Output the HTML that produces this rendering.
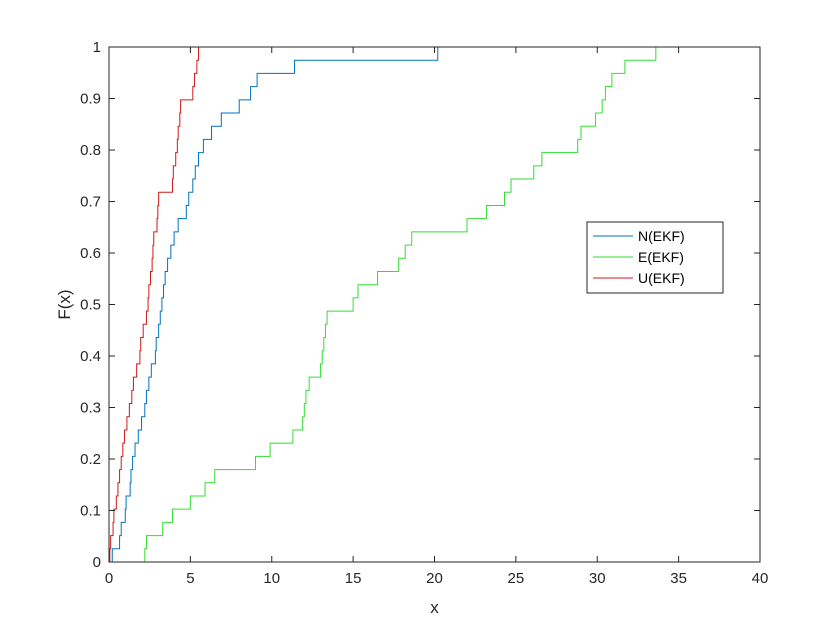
<!DOCTYPE html>
<html><head><meta charset="utf-8"><style>
body{margin:0;background:#fff}
svg{font-family:"Liberation Sans",sans-serif}
</style></head><body>
<svg width="840" height="630" viewBox="0 0 840 630">
<rect width="840" height="630" fill="#fff"/>
<g id="plot"></g>
</svg>
<script>
const xTicks=[0,5,10,15,20,25,30,35,40];
const yTicks=[0,0.1,0.2,0.3,0.4,0.5,0.6,0.7,0.8,0.9,1];
const yTickLabels=["0","0.1","0.2","0.3","0.4","0.5","0.6","0.7","0.8","0.9","1"];
const seriesNames=["N(EKF)","E(EKF)","U(EKF)"];
const nValues=[0.2,0.65,0.75,1.0,1.05,1.3,1.35,1.45,1.6,1.8,2.0,2.2,2.3,2.45,2.6,2.85,2.9,3.05,3.15,3.25,3.35,3.45,3.6,3.8,4.0,4.25,4.75,4.9,5.15,5.3,5.5,5.8,6.3,6.9,8.0,8.7,9.1,11.4,20.2];
const eValues=[2.2,2.3,3.3,3.9,5.0,5.9,6.5,9.0,9.9,11.3,11.9,12.0,12.1,12.3,13.0,13.1,13.2,13.3,13.4,15.0,15.3,16.5,17.8,18.2,18.6,22.0,23.2,24.3,24.7,26.1,26.6,28.8,29.0,29.9,30.3,30.5,30.9,31.7,33.6];
const uValues=[0.05,0.1,0.25,0.3,0.45,0.55,0.65,0.75,0.85,0.95,1.1,1.25,1.4,1.5,1.7,1.9,1.95,2.1,2.3,2.4,2.45,2.55,2.65,2.7,2.75,2.95,3.0,3.05,3.9,3.95,4.1,4.2,4.25,4.35,4.4,5.15,5.25,5.4,5.5];
const colors=["#0072BD","#33dd33","#d01818"];

const L=109,R=760,T=47,B=562;
const sx=v=>L+(v/40)*(R-L);
const sy=v=>B-v*(B-T);
const NS="http://www.w3.org/2000/svg";
const g=document.getElementById('plot');
function mk(tag,attrs,parent){const e=document.createElementNS(NS,tag);for(const k in attrs)e.setAttribute(k,attrs[k]);(parent||g).appendChild(e);return e;}

const series=[nValues,eValues,uValues];
const seriesKeys=["series-n-ekf","series-e-ekf","series-u-ekf"];
series.forEach((vals,i)=>{
  const s=[...vals].sort((a,b)=>a-b);const n=s.length;
  let d=`M${sx(s[0])},${sy(0)}`;
  for(let k=0;k<n;k++){
    d+=` V${sy((k+1)/n)}`;
    if(k+1<n)d+=` H${sx(s[k+1])}`;
  }
  const p=mk('path',{d:d,fill:'none',stroke:colors[i],'stroke-width':1});
  
  
});

const box=mk('rect',{x:L,y:T,width:R-L,height:B-T,fill:'none',stroke:'#262626','stroke-width':1});



xTicks.forEach(t=>{
  const x=sx(t);
  const tk=mk('path',{d:`M${x},${B}V${B-6}M${x},${T}V${T+6}`,stroke:'#262626','stroke-width':1});
  
  
  const tx=mk('text',{x:x,y:B+21,'text-anchor':'middle','font-size':15,fill:'#262626'});
  tx.textContent=String(t);
  
  
});
yTicks.forEach((t,i)=>{
  const y=sy(t);
  const tk=mk('path',{d:`M${L},${y}H${L+6}M${R},${y}H${R-6}`,stroke:'#262626','stroke-width':1});
  
  
  const tx=mk('text',{x:L-8,y:y+5,'text-anchor':'end','font-size':15,fill:'#262626'});
  tx.textContent=yTickLabels[i];
  
  
});
const xl=mk('text',{x:(L+R)/2,y:B+51,'text-anchor':'middle','font-size':17,fill:'#262626'});
xl.textContent='x';


const yl=mk('text',{x:0,y:0,'text-anchor':'middle','font-size':17,fill:'#262626',transform:`translate(70,${(T+B)/2}) rotate(-90)`});
yl.textContent='F(x)';



const lg=mk('g',{});


const lb=mk('rect',{x:587,y:222,width:136,height:71,fill:'#fff',stroke:'#262626','stroke-width':1},lg);


seriesNames.forEach((nm,i)=>{
  const y=236+i*21;
  const ln=mk('line',{x1:593,x2:633,y1:y,y2:y,stroke:colors[i],'stroke-width':1},lg);
  
  
  const tx=mk('text',{x:638,y:y+5,'font-size':14,fill:'#000'},lg);
  tx.textContent=nm;
  
  
});
</script>
</body></html>
